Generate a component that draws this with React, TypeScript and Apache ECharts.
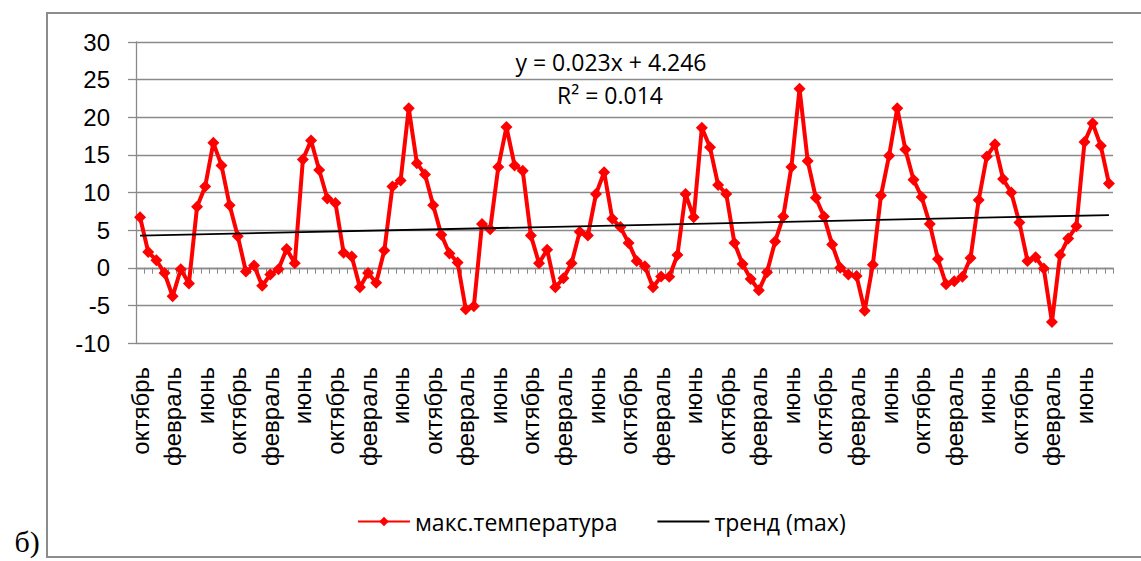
import React, { useEffect, useRef } from "react";
import * as echarts from "echarts";

const monthNames = [
  "октябрь", "ноябрь", "декабрь", "январь", "февраль", "март",
  "апрель", "май", "июнь", "июль", "август", "сентябрь",
];
const yearCount = 10;

const maxTemperature = [
  6.7, 2.1, 1.0, -0.7, -3.8, -0.2, -2.1, 8.1, 10.8, 16.6, 13.6, 8.3,
  4.2, -0.5, 0.3, -2.4, -0.9, -0.2, 2.5, 0.6, 14.4, 16.9, 13.0, 9.2,
  8.6, 2.0, 1.5, -2.6, -0.7, -2.0, 2.3, 10.8, 11.6, 21.2, 13.9, 12.4,
  8.3, 4.4, 1.9, 0.7, -5.5, -5.1, 5.8, 5.1, 13.4, 18.7, 13.6, 12.9,
  4.3, 0.6, 2.4, -2.6, -1.4, 0.6, 4.8, 4.3, 9.8, 12.7, 6.5, 5.4,
  3.3, 0.9, 0.2, -2.6, -1.15, -1.2, 1.7, 9.8, 6.7, 18.6, 16.0, 11.0,
  9.8, 3.3, 0.5, -1.5, -3.0, -0.6, 3.5, 6.8, 13.4, 23.8, 14.2, 9.3,
  6.8, 3.1, 0.0, -0.9, -1.1, -5.7, 0.4, 9.6, 14.9, 21.2, 15.7, 11.7,
  9.4, 5.8, 1.15, -2.2, -1.8, -1.2, 1.3, 9.0, 14.8, 16.4, 11.8, 10.0,
  6.0, 0.9, 1.4, -0.1, -7.2, 1.7, 3.9, 5.5, 16.7, 19.2, 16.2, 11.2,
];

const trendSlope = 0.023;
const trendIntercept = 4.246;
const equationText = "y = 0.023x + 4.246";
const rSquaredText = "R² = 0.014";
const seriesName = "макс.температура";
const trendName = "тренд (max)";
const panelLabel = "б)";

const yMin = -10;
const yMax = 30;
const yInterval = 5;

export default function App() {
  const ref = useRef<HTMLDivElement>(null);

  useEffect(() => {
    if (!ref.current) return;
    const chart = echarts.init(ref.current, null, { renderer: "svg" });

    const categories: string[] = [];
    for (let y = 0; y < yearCount; y++) categories.push(...monthNames);

    const n = maxTemperature.length;
    const trendData = [
      [0, trendSlope * 1 + trendIntercept],
      [n - 1, trendSlope * n + trendIntercept],
    ];

    const gray = "#8a8a8a";

    chart.setOption({
      animation: false,
      backgroundColor: "#ffffff",
      grid: { left: 136, top: 42, right: 28, bottom: 218, containLabel: false },
      legend: {
        left: 352,
        top: 505,
        itemGap: 40,
        itemWidth: 52,
        itemHeight: 12,
        textStyle: { fontFamily: "Open Sans", fontSize: 23, color: "#000" },
        data: [
          { name: seriesName },
          { name: trendName, icon: "path://M0,0 L48,0 L48,2 L0,2 Z" },
        ],
      },
      xAxis: {
        type: "category",
        data: categories,
        boundaryGap: true,
        axisLine: { show: true, lineStyle: { color: gray, width: 1.3 } },
        axisTick: { show: true, interval: 0, length: 6, lineStyle: { color: gray, width: 1 } },
        axisLabel: {
          interval: 3,
          rotate: 90,
          margin: 24,
          fontFamily: "Liberation Sans",
          fontSize: 24,
          color: "#000",
        },
        splitLine: { show: false },
      },
      yAxis: {
        type: "value",
        min: yMin,
        max: yMax,
        interval: yInterval,
        axisLine: { show: true, lineStyle: { color: gray, width: 1.3 } },
        axisTick: { show: true, length: 8, lineStyle: { color: gray, width: 1.3 } },
        axisLabel: {
          margin: 26,
          fontFamily: "Liberation Sans",
          fontSize: 24,
          color: "#000",
        },
        splitLine: { show: true, lineStyle: { color: gray, width: 1.3 } },
      },
      graphic: [
        {
          type: "rect",
          shape: { x: 47, y: 13, width: 1200, height: 544 },
          style: { fill: "none", stroke: "#8c8c8c", lineWidth: 2 },
          silent: true,
          z: -10,
        },
        {
          type: "text",
          x: 27,
          y: 541,
          style: {
            text: panelLabel,
            font: "30px 'Liberation Serif'",
            fill: "#000",
            align: "center",
            verticalAlign: "middle",
          },
        },
        {
          type: "text",
          x: 611,
          y: 62,
          style: {
            text: equationText,
            font: "23px 'Open Sans'",
            fill: "#000",
            align: "center",
            verticalAlign: "middle",
          },
        },
        {
          type: "text",
          x: 610,
          y: 95,
          style: {
            text: rSquaredText,
            font: "23px 'Open Sans'",
            fill: "#000",
            align: "center",
            verticalAlign: "middle",
          },
        },
      ],
      series: [
        {
          name: seriesName,
          type: "line",
          data: maxTemperature,
          symbol: "diamond",
          symbolSize: 12,
          showSymbol: true,
          showAllSymbol: true,
          lineStyle: { color: "#ff0000", width: 4 },
          itemStyle: { color: "#ff0000" },
          z: 2,
        },
        {
          name: trendName,
          type: "line",
          data: trendData,
          symbol: "none",
          lineStyle: { color: "#000000", width: 1.8 },
          itemStyle: { color: "#000000" },
          z: 3,
        },
      ],
    });

    return () => chart.dispose();
  }, []);

  return (
    <div
      ref={ref}
      style={{ position: "fixed", left: 0, top: 0, width: 1141, height: 561, background: "#fff" }}
    />
  );
}
